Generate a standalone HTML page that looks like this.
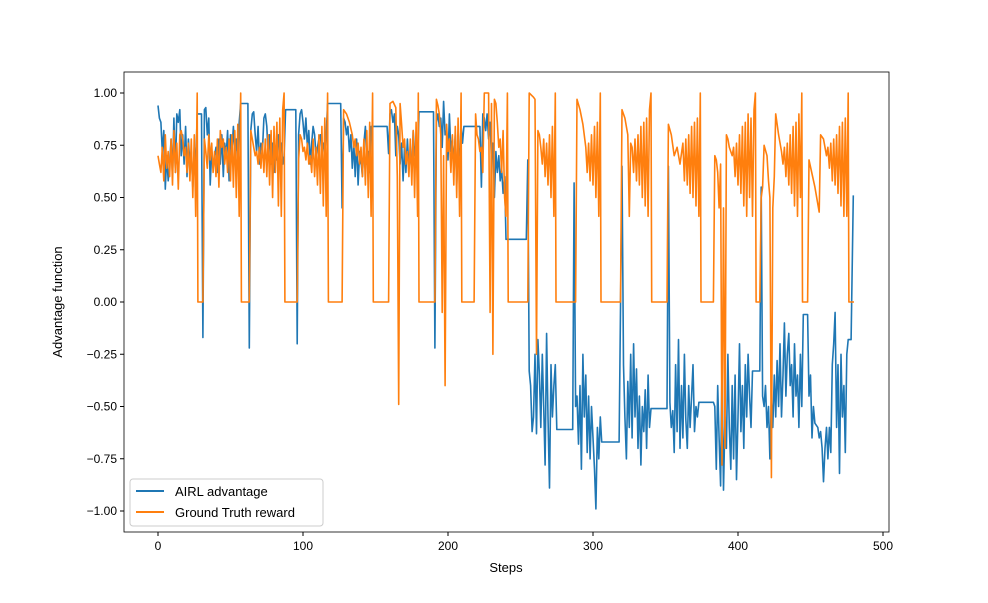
<!DOCTYPE html>
<html><head><meta charset="utf-8"><style>
body{margin:0;background:#fff}
svg{font-family:"Liberation Sans","DejaVu Sans",sans-serif}
</style></head><body>
<svg id="chart" width="988" height="598" viewBox="0 0 988 598" xmlns="http://www.w3.org/2000/svg">
<rect x="0" y="0" width="988" height="598" fill="#fff"/>
<g id="plot"></g>
<rect x="124" y="72" width="765" height="460" fill="none" stroke="#000" stroke-width="0.8"/>
<g id="xt"></g><g id="yt"></g>
<text x="506" y="572" font-size="13" text-anchor="middle">Steps</text>
<text x="62" y="302" font-size="13" text-anchor="middle" transform="rotate(-90 62 302)">Advantage function</text>
<g>
<rect x="130" y="479" width="193" height="47" rx="3" fill="#fff" fill-opacity="0.8" stroke="#ccc"/>
<line x1="136" y1="491" x2="164" y2="491" stroke="#1f77b4" stroke-width="2"/>
<text x="175" y="496" font-size="13">AIRL advantage</text>
<line x1="136" y1="512" x2="164" y2="512" stroke="#ff7f0e" stroke-width="2"/>
<text x="175" y="517" font-size="13">Ground Truth reward</text>
</g>
</svg>
<script>
const xTicks=[0,100,200,300,400,500];
const yTicks=[-1.00,-0.75,-0.50,-0.25,0.00,0.25,0.50,0.75,1.00];
// [step, value] pairs
const airlData=[[0,.94],[1,.88],[2,.86],[3,.72],[4,.82],[5,.54],[6,.70],[7,.58],[8,.66],[9,.78],[10,.60],[11,.88],[12,.62],[13,.90],[14,.86],[15,.92],[16,.70],[17,.80],[18,.66],[19,.84],[20,.60],[21,.78],[22,.66],[23,.72],[24,.55],[25,.74],[26,.64],[27,.90],[30,.90],[31,-.17],[32,.92],[33,.93],[34,.80],[35,.88],[36,.56],[37,.72],[38,.64],[39,.70],[40,.74],[41,.62],[42,.78],[43,.66],[44,.80],[45,.60],[46,.76],[47,.70],[48,.82],[49,.58],[50,.80],[51,.72],[52,.84],[53,.70],[54,.78],[55,.64],[56,.86],[57,.95],[62,.95],[63,-.22],[64,.82],[65,.90],[66,.91],[67,.80],[68,.72],[69,.84],[70,.66],[71,.76],[72,.72],[73,.88],[74,.90],[75,.84],[76,.70],[77,.80],[78,.66],[79,.76],[80,.62],[81,.74],[82,.68],[83,.80],[84,.72],[85,.76],[86,.66],[87,.70],[88,.92],[95,.92],[96,-.20],[97,.80],[98,.90],[99,.92],[100,.86],[101,.78],[102,.88],[103,.74],[104,.82],[105,.66],[106,.76],[107,.84],[108,.80],[109,.70],[110,.74],[111,.78],[112,.80],[113,.70],[114,.76],[115,.72],[116,.80],[117,.95],[126,.95],[127,.45],[128,.88],[129,.86],[130,.80],[131,.84],[132,.72],[133,.80],[134,.64],[135,.76],[136,.60],[137,.78],[138,.56],[139,.72],[140,.68],[141,.60],[142,.76],[143,.84],[144,.66],[145,.72],[146,.62],[147,.84],[158,.84],[159,.71],[160,.90],[161,.92],[162,.86],[163,.90],[164,.70],[165,.84],[166,.80],[167,.66],[168,.76],[169,.58],[170,.74],[171,.62],[172,.78],[173,.64],[174,.72],[175,.62],[176,.82],[177,.70],[178,.76],[179,.64],[180,.91],[190,.91],[191,-.22],[192,.86],[193,.90],[194,.84],[195,.88],[196,.74],[197,.96],[198,.80],[199,.82],[200,.68],[201,.90],[202,.72],[203,.78],[204,.66],[205,.80],[206,.56],[207,.74],[208,.70],[209,.84],[210,.76],[211,.84],[222,.84],[223,.55],[224,.90],[225,.88],[226,.82],[227,.90],[228,.78],[229,.86],[230,.68],[231,.76],[232,.50],[233,.72],[234,.62],[235,.70],[236,.58],[237,.64],[238,.52],[239,.60],[240,.30],[254,.30],[255,.68],[256,-.33],[257,-.40],[258,-.62],[259,-.55],[260,-.25],[261,-.63],[262,-.18],[263,-.35],[264,-.60],[265,-.25],[266,-.50],[267,-.78],[268,-.15],[269,-.55],[270,-.89],[271,-.30],[272,-.55],[273,-.40],[274,-.30],[275,-.61],[286,-.61],[287,.57],[288,-.50],[289,-.45],[290,-.68],[291,-.40],[292,-.80],[293,-.25],[294,-.55],[295,-.35],[296,-.72],[297,-.45],[298,-.75],[299,-.50],[300,-.65],[301,-.80],[302,-.99],[303,-.60],[304,-.75],[305,-.55],[306,-.67],[318,-.67],[320,.65],[321,-.30],[322,-.55],[323,-.75],[324,-.38],[325,-.60],[326,-.25],[327,-.65],[328,-.20],[329,-.55],[330,-.32],[331,-.70],[332,-.45],[333,-.78],[334,-.50],[335,-.62],[336,-.42],[337,-.70],[338,-.35],[339,-.60],[340,-.51],[351,-.51],[352,.65],[353,-.48],[354,-.60],[355,-.52],[356,-.72],[357,-.30],[358,-.62],[359,-.18],[360,-.70],[361,-.40],[362,-.65],[363,-.25],[364,-.56],[365,-.70],[366,-.40],[367,-.60],[368,-.45],[369,-.30],[370,-.62],[371,-.50],[372,-.55],[373,-.48],[383,-.48],[384,-.50],[385,-.80],[386,-.40],[387,-.65],[388,-.88],[389,-.30],[390,-.90],[391,-.55],[392,-.70],[393,-.25],[394,-.60],[395,-.80],[396,-.40],[397,-.75],[398,-.35],[399,-.85],[400,-.55],[401,-.20],[402,-.62],[403,-.40],[404,-.70],[405,-.30],[406,-.55],[407,-.25],[408,-.45],[409,-.60],[410,-.33],[415,-.33],[416,.55],[417,-.45],[418,-.50],[419,-.40],[420,-.60],[421,-.50],[422,-.75],[423,-.45],[424,-.60],[425,-.35],[426,-.55],[427,-.28],[428,-.50],[429,-.20],[430,-.55],[431,-.35],[432,-.10],[433,-.45],[434,-.25],[435,-.15],[436,-.40],[437,-.30],[438,-.55],[439,-.20],[440,-.45],[441,-.35],[442,-.60],[443,-.25],[444,-.50],[445,-.06],[448,-.06],[449,-.45],[450,-.35],[451,-.65],[452,-.50],[453,-.58],[455,-.60],[456,-.65],[457,-.62],[458,-.70],[459,-.86],[460,-.70],[461,-.60],[462,-.75],[463,-.60],[464,-.72],[465,-.30],[466,-.20],[467,-.05],[468,-.60],[469,-.30],[470,-.82],[471,-.25],[472,-.55],[473,-.40],[474,-.72],[475,-.25],[476,-.18],[478,-.18],[479.5,.51]];
const gtData=[[0,.70],[1,.66],[2,.62],[3,.74],[4,.58],[5,.80],[6,.64],[7,.72],[8,.60],[9,.78],[10,.56],[11,.82],[12,.62],[13,.76],[14,.54],[15,.80],[16,.82],[17,.78],[18,.70],[19,.74],[20,.62],[21,.76],[22,.58],[23,.78],[24,.50],[25,.80],[26,.41],[27,1.0],[27.5,0],[31,0],[32,.78],[33,.72],[34,.64],[35,.80],[36,.68],[37,.76],[38,.62],[39,.72],[40,.60],[41,.78],[42,.55],[43,.82],[44,.74],[45,.78],[46,.66],[47,.74],[48,.62],[49,.78],[50,.58],[51,.80],[52,.55],[53,.82],[54,.50],[55,.85],[56,.41],[57,1.0],[57.5,0],[63,0],[64,.82],[65,.78],[66,.74],[67,.70],[68,.72],[69,.66],[70,.74],[71,.64],[72,.76],[73,.62],[74,.78],[75,.60],[76,.80],[77,.56],[78,.82],[79,.50],[80,.84],[81,.62],[82,.86],[83,.46],[84,.88],[85,.41],[86,.92],[87,1.0],[87.5,0],[96,0],[97,.68],[98,.80],[99,.78],[100,.72],[101,.74],[102,.68],[103,.76],[104,.66],[105,.70],[106,.62],[107,.78],[108,.60],[109,.74],[110,.56],[111,.80],[112,.52],[113,.84],[114,.46],[115,.88],[116,.41],[117,1.0],[117.5,0],[127,0],[128,.92],[130,.90],[132,.86],[134,.80],[135,.74],[136,.78],[137,.70],[138,.76],[139,.66],[140,.74],[141,.60],[142,.78],[143,.56],[144,.82],[145,.50],[146,.86],[147,.41],[148,1.0],[148.5,0],[159,0],[160,.95],[162,.96],[164,.93],[165,.60],[166,-.49],[167,.95],[168,.85],[169,.74],[170,.78],[171,.66],[172,.72],[173,.60],[174,.78],[175,.56],[176,.82],[177,.50],[178,.86],[179,.41],[179.5,1.0],[180,0],[191,0],[192,.97],[193,.94],[194,.90],[195,.80],[196,-.05],[197,.70],[198,-.40],[199,.85],[200,.72],[201,.78],[202,.62],[203,.80],[204,.56],[205,.84],[206,.50],[207,.88],[208,.41],[209,1.0],[209.5,0],[218,0],[219,.90],[220,.80],[221,.78],[222,.72],[223,.74],[224,.62],[225,1.0],[228,1.0],[229,-.05],[230,.95],[231,-.25],[232,.97],[233,.95],[234,.86],[235,.74],[236,.78],[237,.62],[238,.82],[239,.50],[240,.41],[241,1.0],[241.5,0],[255,0],[256,1.0],[259,.98],[260,.97],[261,-.25],[262,.82],[263,.80],[264,.74],[265,.66],[266,.78],[267,.60],[268,.76],[269,.56],[270,.80],[271,.50],[272,.84],[273,.41],[274,1.0],[274.5,0],[288,0],[289,.97],[291,.92],[293,.85],[295,.74],[296,.62],[297,.76],[298,.58],[299,.80],[300,.56],[301,.84],[302,.50],[303,.86],[304,.41],[305,1.0],[305.5,0],[319,0],[320,.92],[322,.88],[324,.80],[325,.41],[326,.76],[327,.74],[328,.62],[329,.78],[330,.58],[331,.80],[332,.56],[333,.84],[334,.50],[335,.86],[336,.46],[337,.88],[338,.41],[339,.92],[340,1.0],[340.5,0],[351,0],[352,.85],[354,.80],[356,.70],[358,.74],[360,.66],[362,.76],[363,.58],[364,.78],[365,.56],[366,.80],[367,.52],[368,.84],[369,.50],[370,.86],[371,.46],[372,.88],[373,.41],[374,1.0],[374.5,0],[383,0],[384,.70],[385,.68],[386,.62],[387,.45],[388,.66],[389,-.78],[390,.45],[391,-.70],[392,.80],[393,.78],[394,.74],[396,.70],[397,.74],[398,.60],[399,.76],[400,.56],[401,.80],[402,.52],[403,.84],[404,.46],[405,.86],[406,.41],[407,.90],[408,.50],[409,.88],[410,.41],[411,.92],[412,1.0],[412.5,0],[415,0],[416,.50],[417,.55],[418,.75],[420,.70],[421,.58],[422,.50],[423,-.84],[424,.45],[425,.60],[426,.90],[428,.80],[430,.72],[431,.66],[432,.74],[433,.60],[434,.76],[435,.56],[436,.80],[437,.52],[438,.84],[439,.46],[440,.86],[441,.41],[442,.90],[443,.50],[444,1.0],[444.5,0],[448,0],[449,.68],[453,.55],[456,.43],[457,.80],[459,.78],[461,.70],[462,.74],[463,.64],[464,.76],[465,.58],[466,.78],[467,.56],[468,.80],[469,.52],[470,.84],[471,.46],[472,.86],[473,.41],[474,.88],[475,.41],[476,1.0],[476.5,0],[480,0]];
const X0=124,X1=889,Y0=72,Y1=532;
function xs(v){return 158+(v-0)*(883-158)/500;}
function ys(v){return 302-v*209;}
const NS="http://www.w3.org/2000/svg";
const plot=document.getElementById('plot');
function mkLine(data,color,name){
  const p=document.createElementNS(NS,'polyline');
  
  
  p.setAttribute('points',data.map(d=>xs(d[0]).toFixed(1)+','+ys(d[1]).toFixed(1)).join(' '));
  p.setAttribute('fill','none');p.setAttribute('stroke',color);p.setAttribute('stroke-width','1.6');
  p.setAttribute('stroke-linejoin','round');
  plot.appendChild(p);
}
mkLine(airlData,'#1f77b4','airl-advantage-line');
mkLine(gtData,'#ff7f0e','ground-truth-reward-line');
const xt=document.getElementById('xt'),yt=document.getElementById('yt');
xTicks.forEach(t=>{
  const l=document.createElementNS(NS,'line');
  
  
  l.setAttribute('x1',xs(t));l.setAttribute('x2',xs(t));l.setAttribute('y1',Y1);l.setAttribute('y2',Y1+4);l.setAttribute('stroke','#000');
  xt.appendChild(l);
  const tx=document.createElementNS(NS,'text');
  
  
  tx.setAttribute('x',xs(t));tx.setAttribute('y',Y1+18);tx.setAttribute('font-size','12');tx.setAttribute('text-anchor','middle');
  tx.textContent=t;xt.appendChild(tx);
});
yTicks.forEach(t=>{
  const l=document.createElementNS(NS,'line');
  
  
  l.setAttribute('x1',X0-4);l.setAttribute('x2',X0);l.setAttribute('y1',ys(t));l.setAttribute('y2',ys(t));l.setAttribute('stroke','#000');
  yt.appendChild(l);
  const tx=document.createElementNS(NS,'text');
  
  
  tx.setAttribute('x',X0-7);tx.setAttribute('y',ys(t)+4);tx.setAttribute('font-size','12');tx.setAttribute('text-anchor','end');
  tx.textContent=(t<0?'\u2212':'')+Math.abs(t).toFixed(2);yt.appendChild(tx);
});
</script>
</body></html>
